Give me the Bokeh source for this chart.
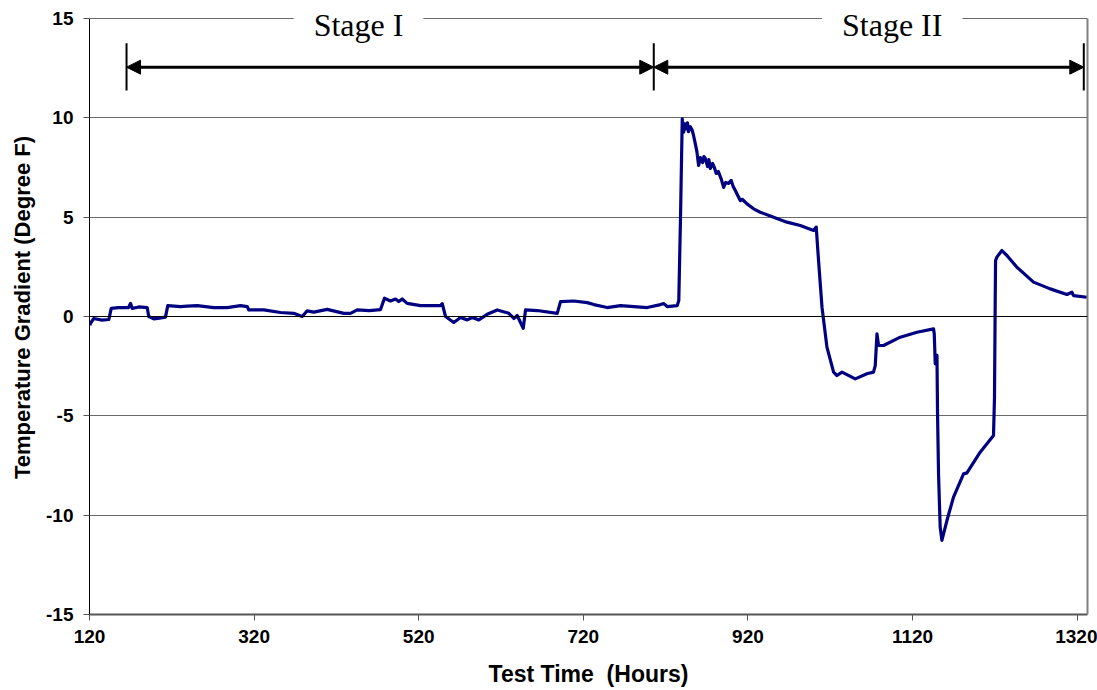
from bokeh.plotting import figure
from bokeh.models import (Range1d, FixedTicker, Label, Arrow, NormalHead, Span,
                          ColumnDataSource, LinearAxis)
from bokeh.embed import file_html
from bokeh.resources import INLINE

# ---- data ----
hours = [120.5, 121.2, 125.2, 135.0, 143.5, 146.4, 155.0, 167.4, 169.8, 171.9, 180.0, 190.1,
         192.0, 198.1, 205.0, 212.3, 215.1, 230.6, 238.7, 250.9, 271.0, 287.3, 303.5, 311.6,
         313.6, 331.8, 352.1, 368.2, 378.4, 384.5, 392.5, 408.8, 429.0, 437.1, 445.3, 460.0,
         473.6, 478.4, 485.7, 491.8, 495.8, 499.9, 506.0, 522.2, 546.5, 548.6, 552.6, 562.6,
         570.8, 578.9, 585.0, 593.0, 603.2, 615.4, 629.5, 635.6, 639.7, 647.0, 649.8, 664.0,
         688.3, 692.3, 708.5, 724.7, 732.8, 749.0, 765.2, 781.4, 797.6, 813.8, 817.8, 821.9,
         834.1, 836.0, 838.1, 840.2, 842.0, 843.5, 845.2, 846.5, 847.8, 850.0, 852.1, 854.0,
         856.1, 858.0, 860.1, 862.2, 865.0, 866.5,
         868.3, 871.0, 872.5, 874.3, 877.0, 879.2, 881.5, 884.1, 887.7, 890.5, 893.0, 896.5,
         899.7, 902.0, 904.7, 907.5, 910.7, 913.0, 915.6, 918.9, 926.9, 935.0, 951.2, 967.4,
         983.6, 999.8, 1003.0,
         1005.8, 1010.0, 1016.0, 1024.1, 1028.2, 1034.3, 1050.4, 1064.6, 1072.6, 1074.7, 1076.8,
         1078.7, 1084.8, 1105.1, 1125.4, 1145.5, 1146.4, 1147.6, 1149.7, 1150.4, 1151.6, 1153.6,
         1155.7, 1161.8, 1169.8, 1182.0, 1186.1, 1202.2, 1218.4, 1219.6, 1220.5, 1220.9, 1222.5,
         1228.6, 1234.7, 1246.8, 1267.0, 1287.3, 1307.6, 1313.6, 1315.6, 1331.8]
gradient = [-0.45, -0.34, -0.10, -0.18, -0.15, 0.41, 0.45, 0.45, 0.66, 0.41, 0.48, 0.45,
            0.00, -0.12, -0.08, -0.03, 0.55, 0.50, 0.52, 0.55, 0.45, 0.45, 0.55, 0.50,
            0.33, 0.33, 0.20, 0.16, 0.00, 0.28, 0.22, 0.36, 0.16, 0.16, 0.33, 0.30,
            0.35, 0.92, 0.78, 0.88, 0.75, 0.88, 0.66, 0.55, 0.55, 0.65, 0.00, -0.30,
            -0.05, -0.17, -0.05, -0.17, 0.11, 0.33, 0.16, -0.10, 0.05, -0.60, 0.33, 0.30,
            0.16, 0.75, 0.78, 0.70, 0.60, 0.45, 0.55, 0.50, 0.45, 0.60, 0.65, 0.50,
            0.55, 0.80, 5.00, 9.95, 9.28, 9.70, 9.45, 9.75, 9.30, 9.55, 9.40, 9.10,
            8.69, 8.30, 7.60, 8.00, 7.75, 8.05,
            7.95, 7.55, 7.90, 7.45, 7.70, 7.50, 7.20, 7.30, 6.90, 6.50, 6.75, 6.70,
            6.85, 6.55, 6.34, 6.10, 5.84, 5.90, 5.80, 5.67, 5.42, 5.25, 5.00, 4.75,
            4.58, 4.33, 4.50,
            2.82, 0.47, -1.54, -2.80, -2.97, -2.80, -3.14, -2.88, -2.80, -2.47, -0.87,
            -1.46, -1.46, -1.04, -0.79, -0.62, -0.87, -2.38, -1.96, -4.90, -7.92, -10.60,
            -11.27, -10.27, -9.09, -7.92, -7.87, -6.83, -5.99, -4.06, 0.97, 2.82, 2.99,
            3.32, 3.07, 2.48, 1.73, 1.39, 1.11, 1.22, 1.05, 0.97]

x_ticks = [120, 320, 520, 720, 920, 1120, 1320]
y_ticks = [-15, -10, -5, 0, 5, 10, 15]
y_tick_labels = ["-15", "-10", "-5", "0", "5", "10", "15"]
stage_names = ["Stage I", "Stage II"]
stage_bounds = [165.0, 805.6, 1328.1]      # hours where the stage markers sit
stage_label_x = [446.9, 1095.3]
arrow_level = 12.55
bar_low, bar_high = 11.38, 13.76
x_title = "Test Time \u00a0(Hours)"
y_title = "Temperature Gradient (Degree F)"

FONT = "Liberation Sans"
Y_LO, Y_HI = y_ticks[0], y_ticks[-1]
# frame starts at the top of the canvas; the axis itself ends at 15 (18 px lower)
Y_TOP = Y_HI + 18 * (Y_HI - Y_LO) / 596

p = figure(width=1097, height=690, output_backend="svg", toolbar_location=None,
           x_range=Range1d(120, 1332.6), y_range=Range1d(Y_LO, Y_TOP),
           min_border_left=89, min_border_right=10, min_border_top=0, min_border_bottom=76,
           background_fill_color="white", border_fill_color="white")
p.outline_line_color = None

src = ColumnDataSource(dict(h=hours, g=gradient))
p.line("h", "g", source=src, line_color="#000080", line_width=3.2, line_join="round")

# axes
p.xaxis.ticker = FixedTicker(ticks=x_ticks)
p.yaxis.ticker = FixedTicker(ticks=y_ticks)
p.yaxis.bounds = (Y_LO, Y_HI)
p.yaxis.major_label_overrides = {t: s for t, s in zip(y_ticks, y_tick_labels)}
p.xaxis.minor_tick_line_color = None
p.yaxis.minor_tick_line_color = None
p.xaxis.major_tick_in = 0
p.yaxis.major_tick_in = 0
p.xaxis.major_tick_out = 6
p.yaxis.major_tick_out = 6
p.xaxis.axis_line_color = "#555555"
p.xaxis.axis_line_width = 2
p.xaxis.major_tick_line_color = "#555555"
p.yaxis.axis_line_color = "black"
p.yaxis.major_tick_line_color = "#555555"
for ax in (p.xaxis, p.yaxis):
    ax.major_label_text_font = FONT
    ax.major_label_text_font_style = "bold"
    ax.major_label_text_font_size = "19px"
    ax.major_label_text_color = "black"
    ax.axis_label_text_font = FONT
    ax.axis_label_text_font_style = "bold"
    ax.axis_label_text_color = "black"
p.yaxis.axis_label_text_font_size = "22px"
p.xaxis.axis_label_text_font_size = "23px"
p.xaxis.major_label_standoff = 9
p.yaxis.major_label_standoff = 10
p.yaxis.axis_label = y_title
p.yaxis.axis_label_standoff = 8
p.xaxis.axis_label = x_title
p.xaxis.axis_label_standoff = 15

# right border of the plot area: a bare axis limited to the value range
rax = LinearAxis(bounds=(Y_LO, Y_HI), ticker=FixedTicker(ticks=[]),
                 major_label_text_font_size="0px", major_tick_line_color=None,
                 minor_tick_line_color=None, axis_line_color="#808080", axis_line_width=2)
p.add_layout(rax, "right")

p.xgrid.grid_line_color = None
p.ygrid.grid_line_color = "#6a6a6a"
p.ygrid.grid_line_width = 1
p.add_layout(Span(location=0, dimension="width", line_color="black", line_width=1))

# stage markers
p.segment(x0=stage_bounds, y0=[bar_low] * 3, x1=stage_bounds, y1=[bar_high] * 3,
          line_color="black", line_width=2)
for i in range(2):
    p.add_layout(Arrow(start=NormalHead(size=14, fill_color="black", line_color="black"),
                       end=NormalHead(size=14, fill_color="black", line_color="black"),
                       x_start=stage_bounds[i], y_start=arrow_level,
                       x_end=stage_bounds[i + 1], y_end=arrow_level,
                       line_color="black", line_width=3))
    p.add_layout(Label(x=stage_label_x[i], y=14.65, text=stage_names[i],
                       text_align="center", text_baseline="alphabetic",
                       text_font="Liberation Serif", text_font_size="32px",
                       text_color="black", background_fill_color="white",
                       padding=(20, 0)))

open("out.html", "w").write(file_html(p, INLINE))
